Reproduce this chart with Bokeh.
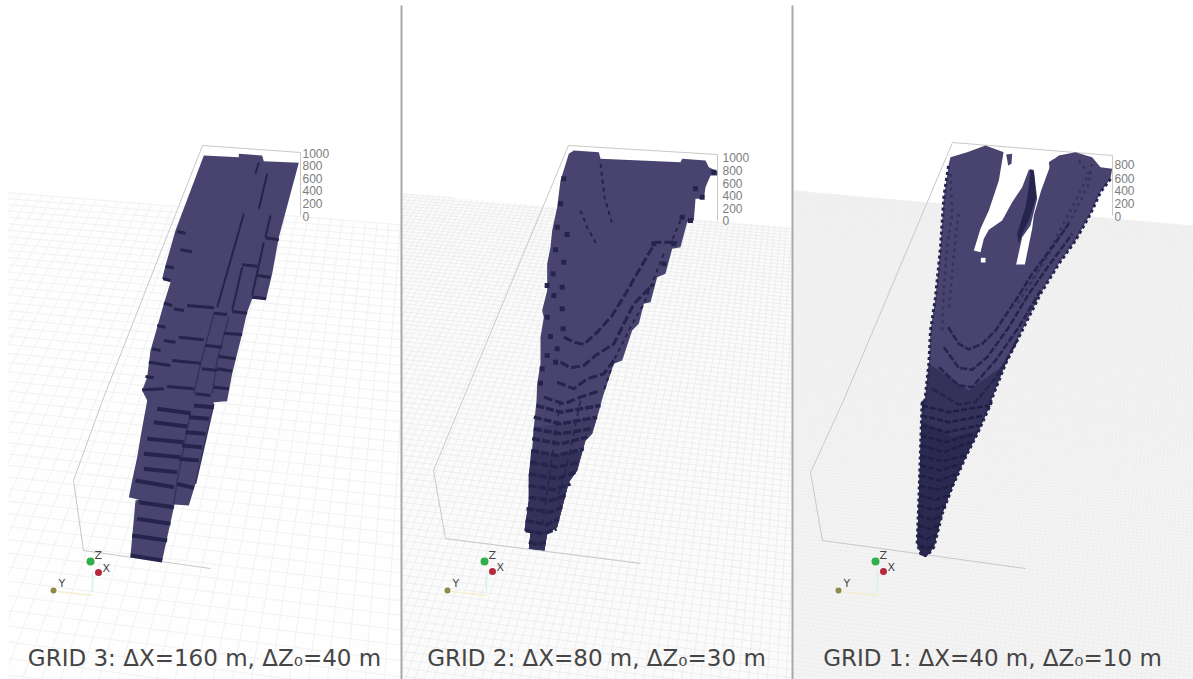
import numpy as np
from bokeh.plotting import figure
from bokeh.core.properties import value
from bokeh.embed import file_html
from bokeh.resources import INLINE

# Crop origins the outlines below were read in (3x crops of the picture)
C1, C2, C3, C4, C5, C6 = (0,130), (0,400), (400,130), (795,130), (400,400), (795,400)

CAPTIONS = ["GRID 3: ΔX=160 m, ΔZ₀=40 m", "GRID 2: ΔX=80 m, ΔZ₀=30 m", "GRID 1: ΔX=40 m, ΔZ₀=10 m"]
CAPTION_X = [204, 596, 992]
TICKS_A = ["1000", "800", "600", "400", "200", "0"]
TICKS_B = ["800", "600", "400", "200", "0"]
TICK_Y_1 = [153, 165, 178, 190, 203, 216]
TICK_Y_2 = [157, 170, 183, 195, 208, 220]
TICK_Y_3 = [164, 178, 190, 203, 216]
TICK_X = [302, 722, 1114]

PANEL_X = [(8,400), (402,791), (793,1193)]
PANEL_TOP = [(192,224), (193,227), (190,225)]
SEPARATORS = [401, 792]

BOX_1 = [(202,145),(300,152),(300,215)], [(202,145),(102,400),(73,480),(83,550),(210,568)]
BOX_2 = [(568,145),(717,154),(717,220)], [(568,145),(462,400),(433,470),(445,538),(640,563)]
BOX_3 = [(952,142),(1112,155),(1112,215)], [(952,142),(843,400),(810,472),(822,540),(1025,568)]

P1_BODY_TOP = [(610,75),(715,80),(715,70),(785,75),(790,92),(895,97),(870,190),(835,320),(815,430),(797,505),(755,505),
               (740,545),(725,610),(710,670),(695,730),(680,810),(680,812)]
P1_BODY_BOT = [(640,5),(613,130),(585,250),(565,315),(522,312),(485,480),(390,465),(405,300),(415,298),(385,290),(395,240),
               (410,170),(420,110),(440,0)]
P1_BODY_LEFT = [(425,780),(440,740),(450,660),(470,590),(490,520),(510,455),(485,445),(495,405),(525,300)]
P1_DARK_TOP = [
 [(490,518),(515,525)],[(520,535),(550,540)],[(560,525),(640,532)],[(640,548),(680,552)],[(695,543),(740,548)],
 [(470,585),(495,590)],[(490,630),(525,635)],[(535,620),(610,628)],[(615,645),(665,650)],[(670,608),(725,612)],
 [(455,655),(480,660)],[(445,695),(510,705)],[(515,690),(600,698)],[(605,715),(650,720)],[(655,678),(705,685)],
 [(650,715),(695,722)],[(435,738),(460,742)],[(425,778),(490,775)],[(500,768),(580,775)],[(585,790),(630,795)],
 [(640,770),(685,775)],[(530,303),(555,308)],[(540,358),(575,364)],[(495,408),(520,412)],[(488,445),(510,450)],
 [(795,322),(835,328)],[(725,403),(770,407)],[(770,435),(810,440)],[(755,500),(797,505)],
]
P1_SEAMS_TOP = [[(775,95),(765,130)],[(800,130),(775,235)],[(730,250),(650,530)],[(810,255),(795,320)],[(790,335),(755,495)],[(725,410),(695,540)]]
P1_FAINT_TOP = [[(640,550),(600,700),(580,790)],[(685,560),(650,690),(635,790)]]
P1_DARK_BOT = [
 [(470,25),(570,38)],[(580,15),(640,20)],[(460,65),(560,78)],[(565,50),(625,55)],[(440,115),(550,125)],[(555,95),(615,100)],
 [(430,160),(540,170)],[(545,135),(605,140)],[(430,205),(530,215)],[(535,175),(595,180)],[(405,240),(520,260)],[(530,250),(580,262)],
 [(415,305),(520,320)],[(410,355),(510,370)],[(395,405),(500,420)],[(390,465),(485,480)],
]
P1_FAINT_BOT = [[(570,40),(530,240),(520,310)],[(640,10),(585,250)]]

P2_BODY_TOP = [(505,70),(520,60),(595,65),(600,85),(840,95),(845,85),(915,90),(925,110),(950,122),(950,135),(930,135),(915,170),
               (910,205),(885,205),(880,270),(860,275),(840,350),(815,355),(795,430),(770,440),(750,515),(730,520),(715,580),
               (695,600),(665,690),(640,700),(610,790),(595,840)]
P2_BODY_BOT = [(605,0),(575,100),(555,120),(530,210),(505,245),(470,380),(440,400),(432,450),(385,445),(390,395),(372,390),
               (385,300),(385,225),(395,160),(400,80),(408,0)]
P2_BODY_LEFT = [(410,760),(420,700),(420,620),(430,560),(425,540),(440,480),(440,400),(450,350),(455,300),(470,230),(480,150)]
P2_SHADE_1 = [(590,50),(575,100),(555,120),(530,210),(505,245),(470,380),(440,400),(432,450),(385,445),(390,395),(372,390),
              (385,300),(385,225),(395,160),(400,80),(480,70)]
P2_SHADE_2 = [(545,150),(530,210),(505,245),(470,380),(440,400),(432,450),(385,445),(390,395),(372,390),(385,300),(385,225),
              (392,150),(470,165)]
P2_ARCS = [
 [(490,620),(520,635),(550,642),(590,605),(635,555),(675,490),(715,420),(765,335),(830,335)],
 [(480,695),(510,712),(550,705),(585,675),(640,640),(700,520),(760,460)],
 [(470,755),(520,775),(560,745),(610,730),(640,690)],
 [(430,800),(490,820),(540,800),(600,780)],
]
P2_DOTTED = [[(600,100),(612,200),(635,280)],[(540,240),(560,290),(590,345)],
             [(790,370),(730,520),(690,590),(640,690),(610,780)],[(840,270),(810,340)]]
P2_DOTS = [(490,145),(480,220),(470,290),(500,312),(465,358),(490,395),(458,430),(440,465),(485,470),(460,495),(440,560),(485,535),
           (450,618),(488,595),(440,675),(470,655),(425,715),(465,695),(420,758),(885,175),(905,200),(845,260),(870,270),(820,340),
           (790,400),(760,340),(940,125)]
P2_ROWS = [
 [(408,15),(480,35),(600,15)],[(400,50),(480,70),(590,50)],[(400,85),(480,100),(570,85)],[(395,115),(480,130),(560,110)],
 [(392,150),(470,165),(550,145)],[(390,185),(470,200),(535,185)],[(385,220),(470,235),(525,215)],[(385,255),(460,268),(510,250)],
 [(385,290),(450,300),(495,285)],[(378,325),(450,335),(485,320)],[(375,360),(440,372),(475,355)],[(375,390),(430,400),(468,385)],
 [(385,425),(410,432),(435,425)],
]
P2_ROW_COLUMNS = [[(540,0),(505,170),(470,300)],[(480,0),(450,200),(425,380)]]

P3_BODY_TOP = [(465,80),(515,65),(570,45),(625,65),(770,90),(790,75),(840,65),(890,80),(915,110),(950,115),(945,145),(915,185),
               (885,250),(840,330),(790,400),(735,490),(680,600),(630,700),(575,840)]
P3_BODY_BOT = [(590,0),(550,90),(510,170),(470,260),(440,340),(415,440),(395,465),(378,465),(365,430),(370,300),(375,150),(380,0)]
P3_BODY_LEFT = [(385,840),(400,700),(405,600),(420,500),(435,350),(445,200),(460,100)]
P3_SHADE_1 = [(385,840),(575,840),(630,700),(520,780),(400,700)]
P3_SHADE_2 = [(550,90),(510,170),(470,260),(440,340),(415,440),(395,465),(378,465),(365,430),(370,300),(375,150),(378,60),(470,110)]
P3_HOLE = [(625,60),(610,150),(580,240),(555,295),(535,360),(555,365),(565,325),(580,298),(620,270),(650,215),(680,170),(700,118),
           (715,118),(725,205),(705,285),(680,320),(662,402),(688,402),(710,295),(715,255),(737,180),(772,85)]
P3_ISLETS = [[(632,72),(650,70),(648,100),(638,105)],[(760,95),(775,85),(772,110),(762,112)]]
P3_SLIVER = [(705,115),(715,125),(722,200),(700,270),(680,310),(670,340),(665,310),(690,230),(700,170)]
P3_WHITE_SPOT = [(556,382),(570,382),(570,396),(556,396)]
P3_ARCS = [
 [(458,590),(490,640),(520,657),(560,640),(600,600),(660,510),(710,430),(770,350),(820,280)],
 [(445,650),(490,712),(530,718),(575,680),(640,590),(700,490),(760,405),(830,310)],
 [(430,710),(490,765),(530,770),(600,690),(670,590),(735,480)],
 [(410,775),(490,822),(540,815),(610,730),(670,620)],
]
P3_FANS = [[(850,90),(880,130),(830,230),(740,400),(660,530)],[(890,100),(880,160),(830,260),(760,370),(700,470)],
           [(465,130),(470,250),(455,350),(445,470),(440,600)],[(490,250),(480,320),(470,430),(460,540)]]
P3_ROWS = [
 [(380,15),(460,35),(580,15)],[(378,45),(460,65),(565,45)],[(378,75),(455,95),(550,75)],[(376,105),(450,125),(535,100)],
 [(376,135),(445,155),(525,125)],[(375,165),(440,182),(510,165)],[(375,195),(435,210),(495,190)],[(374,225),(430,240),(485,220)],
 [(372,255),(425,268),(472,255)],[(372,285),(420,298),(460,285)],[(370,315),(415,328),(450,315)],[(370,345),(410,358),(440,345)],
 [(368,375),(400,385),(430,375)],[(368,405),(395,415),(422,405)],[(372,435),(392,445),(415,435)],
]

TRIAD_Z = [(90,561),(484,561),(875,561)]
TRIAD_X = [(98,572),(492,571),(883,571)]
TRIAD_Y = [(53,590),(447,590),(838,590)]

# Ground plane corners as seen in the left panel (far-left, far-right, near-right, near-left)
PLANE = np.array([(-200,175),(700,249),(926,944),(-708,700)], dtype=float)
PLANE_SHIFT = [(0,0),(392,1),(785,-2)]
PLANE_CELLS = [(80,55),(160,110),(320,220)]
PLANE_FILL = ["#fefefe", "#fbfbfb", "#f4f4f4"]
GRID_COLOR = ["#efefef", "#e6e6e6", "#e8e8e8"]
GRID_WIDTH = [0.9, 0.6, 0.4]
FADE_Y = [260, 290, 320, 350, 380, 410, 440, 470, 500, 530, 560, 590]

BODY = "#48446f"
MID = "#3f3b65"
DARK = "#25244c"
DEEP = "#34325a"
DEEPER = "#2b2950"

def crop(pts, o):
    return [o[0] + a/3 for a, _ in pts], [o[1] + b/3 for _, b in pts]

def join(*parts):
    xs, ys = [], []
    for pts, o in parts:
        a, b = crop(pts, o)
        xs += a; ys += b
    return xs, ys

def many(lines, o):
    out = [crop(l, o) for l in lines]
    return [a for a, _ in out], [b for _, b in out]

def homography(q):
    src = [(0,0),(1,0),(1,1),(0,1)]
    A, b = [], []
    for (u,v),(x,y) in zip(src,q):
        A.append([u,v,1,0,0,0,-u*x,-v*x]); b.append(x)
        A.append([0,0,0,u,v,1,-u*y,-v*y]); b.append(y)
    h = np.linalg.solve(np.array(A), np.array(b))
    return np.append(h,1).reshape(3,3)

def clip(p0, p1, xl, xr, yt_l, yt_r, ybot=679):
    (x0,y0),(x1,y1) = p0,p1
    t0,t1 = 0.0,1.0
    s = (yt_r-yt_l)/(xr-xl)
    edges = [(-(x1-x0), x0-xl), (x1-x0, xr-x0), (y1-y0, ybot-y0),
             (-(y1-y0)+s*(x1-x0), y0-yt_l-s*(x0-xl))]
    for a,b in edges:
        if a == 0:
            if b < 0: return None
        elif a < 0:
            t0 = max(t0, b/a)
        else:
            t1 = min(t1, b/a)
    if t0 >= t1: return None
    return ([x0+t0*(x1-x0), x0+t1*(x1-x0)], [y0+t0*(y1-y0), y0+t1*(y1-y0)])

p = figure(width=1193, height=679, x_range=(0,1193), y_range=(679,0), output_backend="svg",
           toolbar_location=None, x_axis_type=None, y_axis_type=None, min_border=0,
           outline_line_color=None, background_fill_color="white", border_fill_color="white")
p.grid.visible = False

for i in range(3):
    xl, xr = PANEL_X[i]; yl, yr = PANEL_TOP[i]
    p.patch([xl,xr,xr,xl],[yl,yr,680,680], fill_color=PLANE_FILL[i], line_color=None)
    H = homography(PLANE + np.array(PLANE_SHIFT[i]))
    def proj(u,v):
        w = H @ np.array([u,v,1.0])
        return (w[0]/w[2], w[1]/w[2])
    nu, nv = PLANE_CELLS[i]
    gx, gy = [], []
    for k in range(nu+1):
        c = clip(proj(k/nu,0), proj(k/nu,1), xl, xr, yl, yr)
        if c: gx.append(c[0]); gy.append(c[1])
    for k in range(nv+1):
        c = clip(proj(0,k/nv), proj(1,k/nv), xl, xr, yl, yr)
        if c: gx.append(c[0]); gy.append(c[1])
    p.multi_line(gx, gy, line_color=GRID_COLOR[i], line_width=GRID_WIDTH[i])
    if i > 0:
        for fy in FADE_Y:
            p.patch([xl,xr,xr,xl],[fy,fy,680,680], fill_color="white", fill_alpha=0.05, line_color=None)

for b in (BOX_1, BOX_2, BOX_3):
    for seg in b:
        p.line([a for a,_ in seg],[c for _,c in seg], line_color="#c8c8c8", line_width=1)

# Panel 1
x,y = join((P1_BODY_TOP,C1),(P1_BODY_BOT,C2),(P1_BODY_LEFT,C1))
p.patch(x,y,fill_color=BODY,line_color=None)
for lines,o in ((P1_FAINT_TOP,C1),(P1_FAINT_BOT,C2)):
    a,b = many(lines,o)
    p.multi_line(a,b,line_color=DEEP,line_width=1.5)
a,b = many(P1_SEAMS_TOP,C1)
p.multi_line(a,b,line_color=DARK,line_width=2)
a,b = many(P1_DARK_TOP,C1)
p.multi_line(a,b,line_color=DARK,line_width=3)
a,b = many(P1_DARK_BOT,C2)
p.multi_line(a,b,line_color=DARK,line_width=4)

# Panel 2
x,y = join((P2_BODY_TOP,C3),(P2_BODY_BOT,C5),(P2_BODY_LEFT,C3))
p.patch(x,y,fill_color=BODY,line_color=None)
a,b = crop(P2_SHADE_1,C5)
p.patch(a,b,fill_color=MID,line_color=None)
a,b = crop(P2_SHADE_2,C5)
p.patch(a,b,fill_color=DEEP,line_color=None)
a,b = many(P2_ROWS,C5)
p.multi_line(a,b,line_color=DARK,line_width=3.5,line_dash="8 2")
a,b = many(P2_ROW_COLUMNS,C5)
p.multi_line(a,b,line_color=DARK,line_width=1.5,line_dash="6 4")
a,b = many(P2_ARCS,C3)
p.multi_line(a,b,line_color=DARK,line_width=3,line_dash="9 3")
a,b = many(P2_DOTTED,C3)
p.multi_line(a,b,line_color=DARK,line_width=2,line_dash="4 4")
a,b = crop(P2_DOTS,C3)
p.scatter(a,b,marker="square",size=5,fill_color=DARK,line_color=None)

# Panel 3
x,y = join((P3_BODY_TOP,C4),(P3_BODY_BOT,C6),(P3_BODY_LEFT,C4))
p.patch(x,y,fill_color=BODY,line_color=None)
a,b = crop(P3_SHADE_1,C4)
p.patch(a,b,fill_color=DEEP,line_color=None)
x2,y2 = crop(P3_BODY_BOT,C6)
p.patch(x2,y2,fill_color=DEEP,line_color=None)
a,b = crop(P3_SHADE_2,C6)
p.patch(a,b,fill_color=DEEPER,line_color=None)
ex,ey = join((P3_BODY_TOP[10:],C4),(P3_BODY_BOT,C6),(P3_BODY_LEFT,C4))
p.line(ex,ey,line_color=DARK,line_width=3,line_dash="3 3")
a,b = crop(P3_HOLE,C4)
p.patch(a,b,fill_color="white",line_color=None)
a,b = crop(P3_WHITE_SPOT,C4)
p.patch(a,b,fill_color="white",line_color=None)
for isl in P3_ISLETS:
    a,b = crop(isl,C4)
    p.patch(a,b,fill_color=BODY,line_color=None)
a,b = crop(P3_SLIVER,C4)
p.patch(a,b,fill_color=DARK,line_color=None)
a,b = many(P3_FANS,C4)
p.multi_line(a,b,line_color="#35335c",line_width=2.5,line_dash="3 4")
a,b = many(P3_ARCS,C4)
p.multi_line(a,b,line_color=DARK,line_width=2.5,line_dash="7 2")
a,b = many(P3_ROWS,C6)
p.multi_line(a,b,line_color="#1f1e42",line_width=2.5,line_dash="6 2")

# Tick labels
font = value("Liberation Sans")
p.text([TICK_X[0]]*6, TICK_Y_1, text=TICKS_A, text_font=font, text_font_size="12px", text_color="#7d7d7d", text_baseline="middle")
p.text([TICK_X[1]]*6, TICK_Y_2, text=TICKS_A, text_font=font, text_font_size="12px", text_color="#7d7d7d", text_baseline="middle")
p.text([TICK_X[2]]*5, TICK_Y_3, text=TICKS_B, text_font=font, text_font_size="12px", text_color="#7d7d7d", text_baseline="middle")

# Orientation triads
for i in range(3):
    zx,zy = TRIAD_Z[i]; rx,ry = TRIAD_X[i]; yx,yy = TRIAD_Y[i]
    p.line([zx+2,zx+2],[zy+10,zy+30],line_color="#d8f3ee",line_width=1.5)
    p.line([yx+4,zx+2],[yy+1,yy+5],line_color="#f4efcf",line_width=1.5)
    p.scatter([zx],[zy],marker="circle",size=8,fill_color="#2fae4e",line_color=None)
    p.scatter([rx],[ry],marker="circle",size=7,fill_color="#b5293c",line_color=None)
    p.scatter([yx],[yy],marker="circle",size=6,fill_color="#8f8a4a",line_color=None)
    p.text([zx+4,rx+4,yx+5],[zy-6,ry-4,yy-7],text=["Z","X","Y"],text_font=value("DejaVu Sans"),text_font_size="11px",
           text_color="#444444",text_baseline="middle")

# Captions
p.text(CAPTION_X,[657,657,657],text=CAPTIONS,text_font=value("DejaVu Sans"),text_font_size="23px",text_color="#454545",
       text_align="center",text_baseline="middle")

# Panel separators
for sx in SEPARATORS:
    p.line([sx,sx],[5,679],line_color="#a8a8a8",line_width=2)

open("out.html","w").write(file_html(p, INLINE))
